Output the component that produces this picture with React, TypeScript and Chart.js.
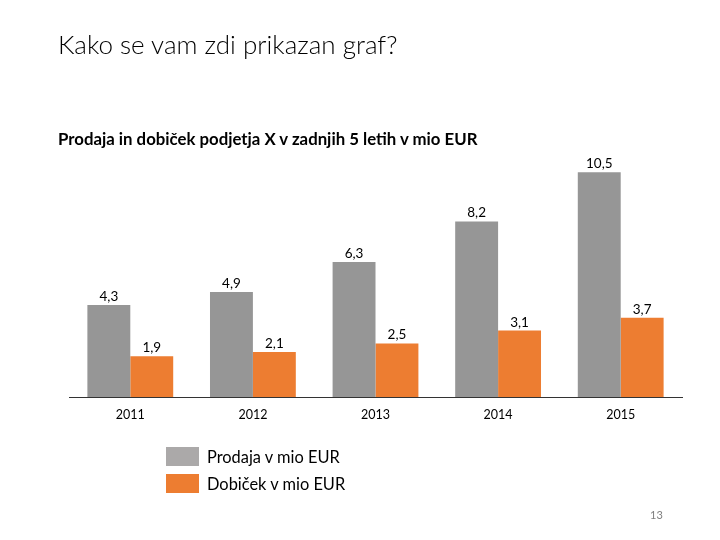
import React, { useEffect, useRef } from "react";
import { Chart, registerables } from "chart.js";

Chart.register(...registerables);

const years = ["2011", "2012", "2013", "2014", "2015"];
const prodaja = [4.3, 4.9, 6.3, 8.2, 10.5];
const dobicek = [1.9, 2.1, 2.5, 3.1, 3.7];
const seriesNames = ["Prodaja v mio EUR", "Dobiček v mio EUR"];
const barColors = ["#969696", "#ED7D31"];
const legendColors = ["#ABA9A9", "#ED7D31"];

const FONT = "Lato, 'Open Sans', sans-serif";

const labelPlugin = {
  id: "barLabels",
  afterDatasetsDraw(chart: any) {
    const ctx = chart.ctx;
    ctx.save();
    ctx.font = `13.5px ${FONT}`;
    ctx.fillStyle = "#000";
    ctx.textAlign = "center";
    ctx.textBaseline = "alphabetic";
    chart.data.datasets.forEach((ds: any, i: number) => {
      const meta = chart.getDatasetMeta(i);
      meta.data.forEach((el: any, j: number) => {
        const v = ds.data[j];
        ctx.fillText(String(v).replace(".", ","), el.x, el.y - 4);
      });
    });
    ctx.restore();
  },
};

export default function App() {
  const ref = useRef<HTMLCanvasElement>(null);
  useEffect(() => {
    const chart = new Chart(ref.current!, {
      type: "bar",
      data: {
        labels: years,
        datasets: [
          { label: seriesNames[0], data: prodaja, backgroundColor: barColors[0] },
          { label: seriesNames[1], data: dobicek, backgroundColor: barColors[1] },
        ],
      },
      options: {
        animation: false,
        responsive: false,
        maintainAspectRatio: false,
        layout: { padding: { left: 69, right: 38, top: 140, bottom: 113 } },
        plugins: { legend: { display: false }, tooltip: { enabled: false }, title: { display: false } },
        datasets: { bar: { categoryPercentage: 0.7, barPercentage: 1.0 } } as any,
        scales: {
          x: {
            grid: { display: false, drawTicks: false },
            border: { display: true, color: "#333333", width: 1 },
            ticks: { color: "#000", font: { family: FONT, size: 12.5 }, padding: 10 },
            afterFit: (s: any) => { s.height = 30; },
          } as any,
          y: { display: false, min: 0, max: 12 },
        },
      },
      plugins: [labelPlugin],
    });
    return () => chart.destroy();
  }, []);

  return (
    <div style={{ position: "absolute", left: 0, top: 0, width: 720, height: 540, background: "#fff", fontFamily: FONT }}>
      <canvas ref={ref} width={720} height={540} style={{ position: "absolute", left: 0, top: 0 }} />
      <div style={{ position: "absolute", left: 58, top: 28, fontSize: 26, fontWeight: 300, color: "#000", whiteSpace: "nowrap" }}>
        Kako se vam zdi prikazan graf?
      </div>
      <div style={{ position: "absolute", left: 58, top: 128, fontSize: 16.8, fontWeight: 700, color: "#000", whiteSpace: "nowrap" }}>
        Prodaja in dobiček podjetja X v zadnjih 5 letih v mio EUR
      </div>
      {seriesNames.map((n, i) => (
        <div key={n} style={{ position: "absolute", left: 166, top: 447 + i * 27, height: 19, display: "flex", alignItems: "center", whiteSpace: "nowrap" }}>
          <div style={{ width: 33, height: 19, background: legendColors[i] }} />
          <span style={{ marginLeft: 8, fontSize: 16.4, color: "#000" }}>{n}</span>
        </div>
      ))}
      <div style={{ position: "absolute", left: 650, top: 508, fontSize: 11, color: "#7F7F7F" }}>13</div>
    </div>
  );
}
